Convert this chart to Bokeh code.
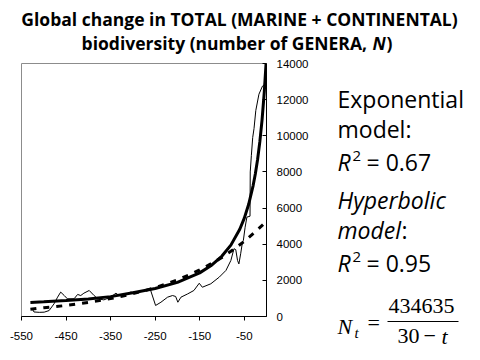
from bokeh.plotting import figure
from bokeh.models import Range1d, FixedTicker, Label
from bokeh.layouts import column, row
from bokeh.embed import file_html
from bokeh.resources import INLINE

# ---- data ----
x_ticks = [-550, -450, -350, -250, -150, -50]
x_tick_labels = ["-550", "-450", "-350", "-250", "-150", "-50"]
y_ticks = [0, 2000, 4000, 6000, 8000, 10000, 12000, 14000]
y_tick_labels = ["0", "2000", "4000", "6000", "8000", "10000", "12000", "14000"]

# observed total number of genera (thin line)
obs_t = [-526, -522, -510, -499, -488, -477, -469, -462, -454, -447, -432, -424,
         -417, -410, -398, -387, -379, -365, -350, -338, -331, -312, -305, -290,
         -275, -262, -260, -249, -237, -222, -211, -204, -199, -192, -177, -163,
         -151, -144, -125, -106, -91, -80, -73, -69, -65, -62, -58, -54, -52,
         -48, -44, -37, -36.5, -34, -31, -28, -24, -17, -9, -5, -1]
obs_n = [430, 250, 230, 240, 330, 700, 1070, 1350, 1160, 980, 980, 1220,
         1160, 1290, 1440, 1160, 980, 920, 1070, 1290, 1160, 1220, 1350, 1330,
         1420, 1480, 1440, 610, 790, 1070, 1160, 1110, 790, 1070, 1250, 1440,
         1840, 1620, 1810, 2180, 2550, 3100, 3750, 3700, 3100, 2910, 3470, 4110, 4200,
         4940, 5500, 5550, 8000, 8900, 9900, 10400, 11400, 12300, 12750, 12800, 13900]

# hyperbolic model (thick line)
hyp_t = [-530, -500, -450, -400, -350, -300, -250, -200, -150, -125, -100, -80,
         -60, -50, -40, -30, -25, -20, -15, -10, -5, -1]
hyp_n = [770, 810, 880, 970, 1100, 1310, 1550, 1890, 2415, 2805, 3345, 3950,
         4830, 5430, 6210, 7245, 7900, 8690, 9660, 10870, 12420, 14000]

# exponential model (dashed line)
exp_t = [-530, -500, -475, -450, -425, -400, -375, -350, -325, -300, -275, -250,
         -225, -200, -175, -150, -125, -100, -75, -50, -25, -5]
exp_n = [400, 485, 545, 610, 690, 780, 880, 990, 1120, 1260, 1420, 1600,
         1800, 2030, 2290, 2580, 2910, 3270, 3690, 4160, 4690, 5150]

TITLE_H = 55
CHART_W = 330
CHART_H = 360 - TITLE_H


def text_panel(w, h, x0, y0):
    """A blank figure whose data units equal page pixels."""
    f = figure(width=w, height=h, x_range=Range1d(x0, x0 + w), y_range=Range1d(y0 + h, y0),
               x_axis_location=None, y_axis_location=None,
               output_backend="svg", toolbar_location=None,
               min_border_left=0, min_border_right=0, min_border_top=0, min_border_bottom=0)
    f.title = None
    f.grid.visible = False
    f.outline_line_color = None
    f.background_fill_color = "white"
    f.border_fill_color = "white"
    return f


def lab(f, x, y, text, font="Open Sans", size=23, style="normal", align="left"):
    # y is the wanted baseline; Bokeh draws the text slightly below it
    f.add_layout(Label(x=x, y=y - 0.32 * size, text=text, text_font=font,
                       text_font_size=f"{size}px", text_font_style=style,
                       text_align=align, text_baseline="alphabetic", text_color="black"))


# ---- title ----
tp = text_panel(480, TITLE_H, 0, 0)
lab(tp, 239, 24, "Global change in TOTAL (MARINE + CONTINENTAL)", size=17.5, style="bold", align="center")
lab(tp, 371, 48, "biodiversity (number of GENERA, ", size=17.5, style="bold", align="right")
lab(tp, 372, 48, "N", size=17.5, style="bold italic")
lab(tp, 386, 48, ")", size=17.5, style="bold")

# ---- chart ----
p = figure(width=CHART_W, height=CHART_H, x_range=Range1d(-550, 0), y_range=Range1d(0, 14000),
           x_axis_location="below", y_axis_location="right",
           output_backend="svg", toolbar_location=None,
           min_border_left=21, min_border_right=64,
           min_border_top=63 - TITLE_H, min_border_bottom=CHART_H - (316 - TITLE_H))
p.title = None
p.grid.visible = False
p.background_fill_color = "white"
p.border_fill_color = "white"
p.outline_line_color = "#8c8c8c"
p.outline_line_width = 1

xa = p.xaxis[0]
xa.ticker = FixedTicker(ticks=x_ticks)
xa.major_label_overrides = {t: s for t, s in zip(x_ticks, x_tick_labels)}
xa.minor_tick_line_color = None
xa.major_tick_in = 0
xa.major_tick_out = 4
xa.axis_line_color = "black"
xa.major_tick_line_color = "black"
xa.major_label_text_font = "Liberation Sans"
xa.major_label_text_font_size = "11.5px"
xa.major_label_text_color = "black"
xa.major_label_standoff = 11

ya = p.yaxis[0]
ya.ticker = FixedTicker(ticks=y_ticks)
ya.major_label_overrides = {t: s for t, s in zip(y_ticks, y_tick_labels)}
ya.minor_tick_line_color = None
ya.major_tick_in = 4
ya.major_tick_out = 0
ya.axis_line_color = "black"
ya.major_tick_line_color = "black"
ya.major_label_text_font = "Liberation Sans"
ya.major_label_text_font_size = "11.5px"
ya.major_label_text_color = "black"
ya.major_label_standoff = 10

p.line(obs_t, obs_n, line_color="black", line_width=1)
p.line(exp_t, exp_n, line_color="black", line_width=3, line_dash="6 7")
p.line(hyp_t, hyp_n, line_color="black", line_width=3)

# ---- right-hand text ----
rp = text_panel(480 - CHART_W, CHART_H, CHART_W, TITLE_H)
lab(rp, 337, 106, "Exponential")
lab(rp, 337, 136, "model:")
lab(rp, 337, 169, "R", style="italic")
lab(rp, 352, 160, "2", size=15)
lab(rp, 366, 169, "= 0.67")
lab(rp, 337, 207, "Hyperbolic", style="italic")
lab(rp, 337, 237, "model", style="italic")
lab(rp, 401, 237, ":")
lab(rp, 337, 270, "R", style="italic")
lab(rp, 352, 261, "2", size=15)
lab(rp, 366, 270, "= 0.95")

serif = "Liberation Serif"
lab(rp, 337, 333, "N", font=serif, size=22, style="italic")
lab(rp, 354, 337, "t", font=serif, size=15, style="italic")
lab(rp, 367, 329, "=", font=serif, size=22)
lab(rp, 421, 313, "434635", font=serif, size=22, align="center")
lab(rp, 397, 343, "30", font=serif, size=22)
lab(rp, 423, 343, "\u2212", font=serif, size=22)
lab(rp, 441, 343, "t", font=serif, size=22, style="italic")
rp.segment(x0=[387], y0=[321], x1=[458], y1=[321], line_color="black", line_width=1)

# wrap the text panels so their frames are not aligned with the chart frame
layout = column(column(tp), row(p, column(rp), spacing=0), spacing=0)
open("out.html", "w").write(file_html(layout, INLINE))
